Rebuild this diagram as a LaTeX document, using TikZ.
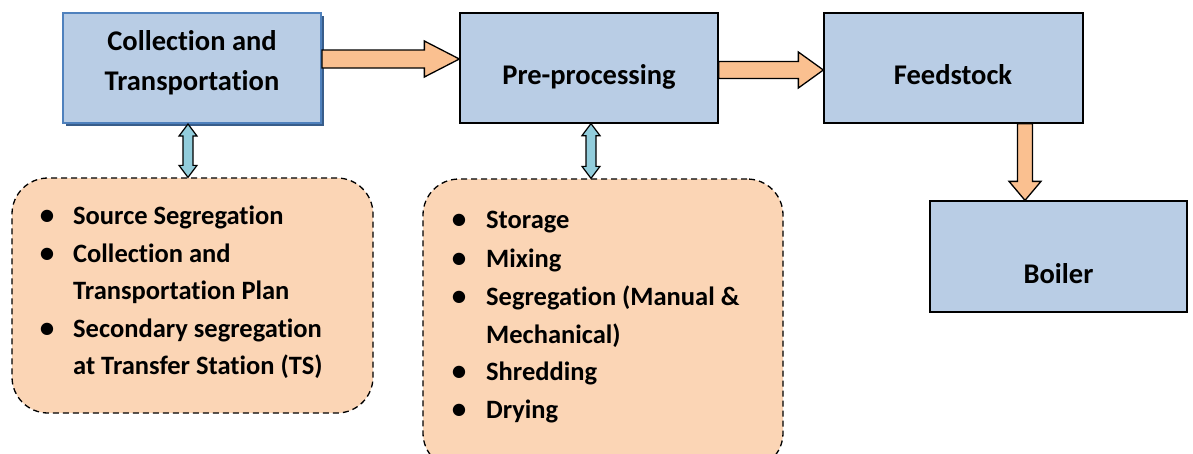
\documentclass[tikz,border=0pt]{standalone}
\usepackage{fontspec}
\setmainfont[Ligatures={NoCommon,NoContextual},Contextuals=NoAlternate]{Carlito}
\usetikzlibrary{calc,shadows}
\definecolor{boxblue}{HTML}{B9CDE5}
\definecolor{edgeblue}{HTML}{4F81BD}
\definecolor{shadeblue}{HTML}{385D8A}
\definecolor{peach}{HTML}{FBD5B5}
\definecolor{arroworange}{HTML}{FAC090}
\definecolor{arrowcyan}{HTML}{92CDDC}
\begin{document}
\begin{tikzpicture}[x=1pt,y=-1pt,
  stage/.style={draw=black, line width=1.3pt, fill=boxblue, minimum width=258pt, minimum height=110pt, inner sep=0pt},
  sidebox/.style={draw=black, dash pattern=on 6pt off 4pt, line width=1.3pt, fill=peach, rounded corners=36pt, inner sep=0pt},
  boxtxt/.style={font=\fontsize{28.5}{32}\selectfont\bfseries, anchor=base, inner sep=0pt},
  itemtxt/.style={font=\fontsize{26.5}{30}\selectfont\bfseries, anchor=base west, inner sep=0pt},
  dottxt/.style={font=\fontsize{29}{30}\selectfont\bfseries, anchor=base, inner sep=0pt},
  flow/.style={draw=black, line width=1.3pt, fill=arroworange, line join=miter},
  link/.style={draw=black, line width=1.2pt, fill=arrowcyan, line join=miter},
]
\clip (0,0) rectangle (1193,453);
\useasboundingbox (0,0) rectangle (1193,453);

% main stages
\node[stage, draw=edgeblue, line width=2pt,
  drop shadow={shadow xshift=3pt, shadow yshift=-3pt, fill=shadeblue, opacity=1}]
  (c1) at (192,68) {};
\node[stage] (c2) at (589,68) {};
\node[stage, minimum width=259pt] (c3) at (953.5,68) {};
\node[stage, minimum width=257pt, minimum height=111pt] (c4) at (1058.5,256.5) {};

\node[boxtxt] (t1a) at (192,50) {Collection and};
\node[boxtxt] (t1b) at (192,90) {Transportation};
\node[boxtxt] (t2) at (589,84) {Pre-processing};
\node[boxtxt] (t3) at (953,84) {Feedstock};
\node[boxtxt] (t4) at (1058.5,283) {Boiler};

% side boxes
\node[sidebox, minimum width=361pt, minimum height=235pt] (L) at (192.5,295.5) {};
\node[sidebox, minimum width=360pt, minimum height=290pt] (M) at (603,324) {};

% bullets left
\node[dottxt] (lb1) at (47,224) {•};
\node[itemtxt] (l1) at (73,224) {Source Segregation};
\node[dottxt] (lb2) at (47,262) {•};
\node[itemtxt] (l2) at (73,262) {Collection and};
\node[itemtxt] (l3) at (73,299) {Transportation Plan};
\node[dottxt] (lb3) at (47,337) {•};
\node[itemtxt] (l4) at (73,337) {Secondary segregation};
\node[itemtxt] (l5) at (73,374) {at Transfer Station (TS)};

% bullets middle
\node[dottxt] (mb1) at (459,228) {•};
\node[itemtxt] (m1) at (486,228) {Storage};
\node[dottxt] (mb2) at (459,267) {•};
\node[itemtxt] (m2) at (486,267) {Mixing};
\node[dottxt] (mb3) at (459,305) {•};
\node[itemtxt] (m3) at (486,305) {Segregation (Manual \&};
\node[itemtxt] (m4) at (486,343) {Mechanical)};
\node[dottxt] (mb4) at (459,380) {•};
\node[itemtxt] (m5) at (486,380) {Shredding};
\node[dottxt] (mb5) at (459,418) {•};
\node[itemtxt] (m6) at (486,418) {Drying};

% flow arrows
\coordinate (a1s) at ($(c1.east)+(0,-9)$);
\coordinate (a1e) at (c2.west |- a1s);
\draw[flow] let \p1=(a1s), \p2=(a1e) in
  (\x1,\y1+9pt) -- (\x2-35pt,\y1+9pt) -- (\x2-35pt,\y1+18pt) -- (\x2,\y1)
  -- (\x2-35pt,\y1-18pt) -- (\x2-35pt,\y1-9pt) -- (\x1,\y1-9pt) -- cycle;

\coordinate (a2s) at ($(c2.east)+(0,2)$);
\coordinate (a2e) at (c3.west |- a2s);
\draw[flow] let \p1=(a2s), \p2=(a2e) in
  (\x1,\y1+8.5pt) -- (\x2-25pt,\y1+8.5pt) -- (\x2-25pt,\y1+18pt) -- (\x2,\y1)
  -- (\x2-25pt,\y1-18pt) -- (\x2-25pt,\y1-8.5pt) -- (\x1,\y1-8.5pt) -- cycle;

\coordinate (a3s) at ($(c3.south)+(71.5,0)$);
\coordinate (a3e) at (a3s |- c4.north);
\draw[flow] let \p1=(a3s), \p2=(a3e) in
  (\x1-7.5pt,\y1) -- (\x1-7.5pt,\y2+19pt) -- (\x1-16pt,\y2+19pt) -- (\x1,\y2)
  -- (\x1+16pt,\y2+19pt) -- (\x1+7.5pt,\y2+19pt) -- (\x1+7.5pt,\y1) -- cycle;

% double links
\coordinate (d1t) at ($(c1.south)+(-4,0)$);
\coordinate (d1b) at (d1t |- L.north);
\draw[link] let \p1=(d1t), \p2=(d1b) in
  (\x1,\y1) -- (\x1+9pt,\y1-12pt) -- (\x1+5pt,\y1-12pt) -- (\x1+5pt,\y2+12pt)
  -- (\x1+9pt,\y2+12pt) -- (\x1,\y2) -- (\x1-9pt,\y2+12pt) -- (\x1-5pt,\y2+12pt)
  -- (\x1-5pt,\y1-12pt) -- (\x1-9pt,\y1-12pt) -- cycle;

\coordinate (d2t) at ($(c2.south)+(2,0)$);
\coordinate (d2b) at (d2t |- M.north);
\draw[link] let \p1=(d2t), \p2=(d2b) in
  (\x1,\y1) -- (\x1+9pt,\y1-12pt) -- (\x1+5pt,\y1-12pt) -- (\x1+5pt,\y2+12pt)
  -- (\x1+9pt,\y2+12pt) -- (\x1,\y2) -- (\x1-9pt,\y2+12pt) -- (\x1-5pt,\y2+12pt)
  -- (\x1-5pt,\y1-12pt) -- (\x1-9pt,\y1-12pt) -- cycle;
\end{tikzpicture}
\end{document}
